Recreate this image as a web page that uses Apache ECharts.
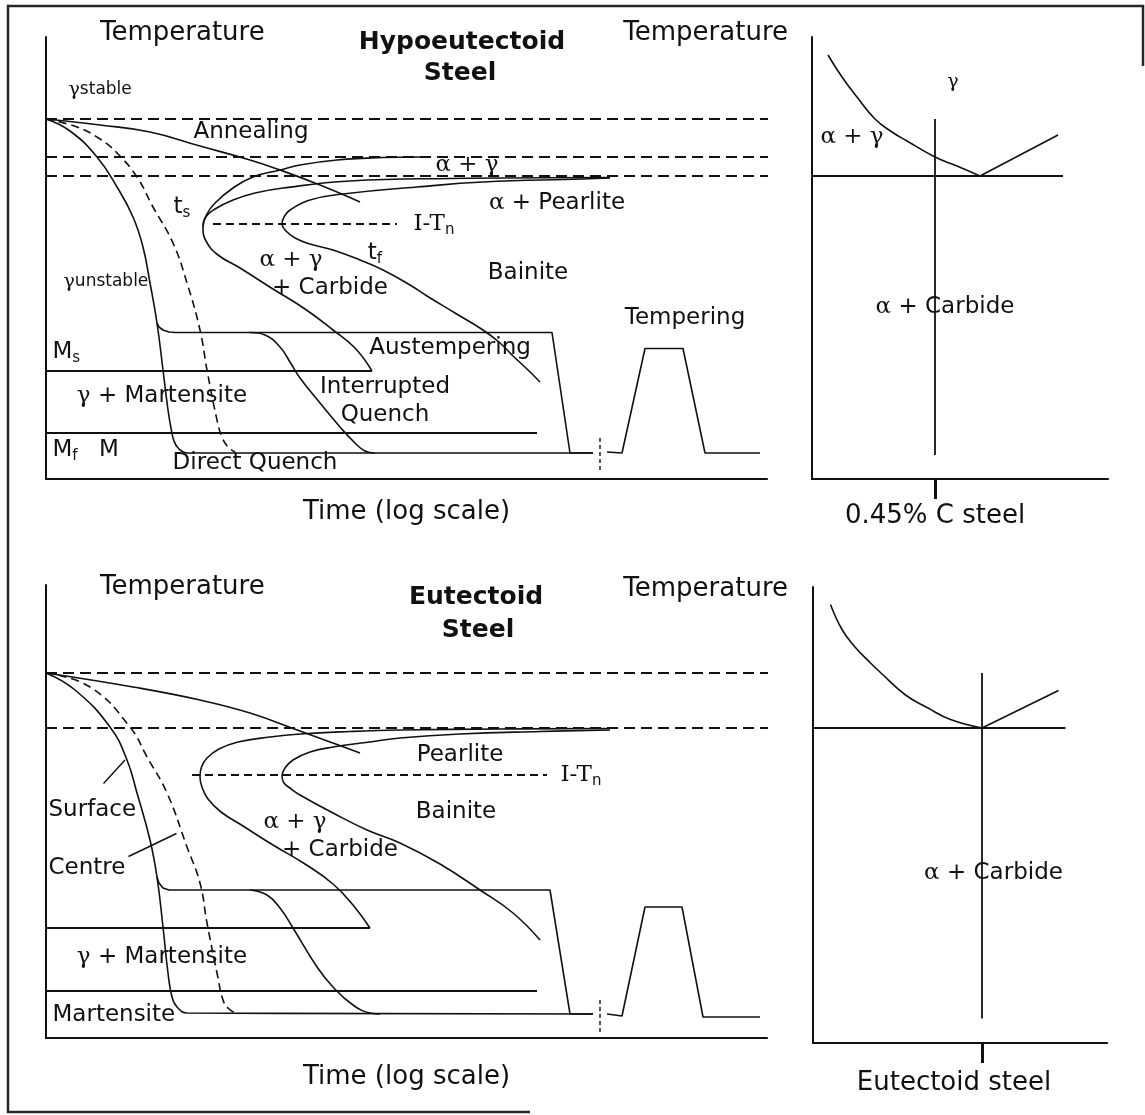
<!DOCTYPE html>
<html>
<head>
<meta charset="utf-8">
<script src="https://cdn.jsdelivr.net/npm/echarts@6/dist/echarts.min.js"></script>
<style>
  html, body { margin: 0; padding: 0; background: #fff; }
  #chart { width: 1145px; height: 1115px; }
</style>
</head>
<body>
<div id="chart"></div>
<script>
// Heat-treatment paths over isothermal transformation (I-T) curves,
// with the matching corner of the Fe-C phase diagram beside each panel.
// Time runs in arbitrary log-time units, temperature in arbitrary units.

// ---------- Hypoeutectoid steel (0.45% C) ----------
const hypoAustenitizeLine = [[0, 72.0], [177.8, 72.0]];
const hypoA3Line = [[0, 64.4], [175.4, 64.4]];
const hypoA1Line = [[0, 60.6], [153.2, 60.6]];
const hypoITnLine = [[33.4, 51.0], [70.2, 51.0]];
const hypoMsLine = [[0, 21.6], [65.2, 21.6]];
const hypoMfLine = [[0, 9.2], [98.2, 9.2]];

const hypoAnnealing = [[0, 72.0], [10.8, 70.8], [20.8, 69.4], [30.8, 66.6], [40.8, 63.8], [46.8, 61.8], [54.8, 58.8], [62.8, 55.4]];
// transformation start: ferrite branch (to A3) and lower bainite side
const hypoStartFerrite = [[74.8, 64.4], [67.4, 64.3], [58.2, 63.8], [50.8, 62.8], [46.8, 61.8], [41.4, 60.4], [37.4, 58.2], [33.8, 55.2], [32.2, 53.0], [31.4, 50.4], [32.0, 47.6], [34.4, 44.8], [38.8, 42.2], [45.4, 38.0], [51.8, 34.0], [57.4, 29.8], [61.8, 26.2], [65.2, 21.6]];
const hypoStartPearlite = [[31.4, 50.4], [31.8, 52.2], [33.8, 54.0], [37.4, 55.8], [41.8, 57.2], [47.4, 58.2], [60.8, 59.6], [80.8, 60.1], [112.8, 60.3]];
const hypoFinish = [[112.8, 60.2], [107.4, 60.0], [87.4, 59.4], [74.2, 58.4], [59.4, 57.0], [52.8, 55.8], [48.8, 53.8], [47.6, 52.4], [47.2, 51.0], [48.0, 49.6], [49.8, 48.2], [52.8, 47.0], [57.4, 45.8], [62.8, 43.8], [67.4, 41.8], [72.8, 38.8], [76.2, 36.6], [81.8, 33.2], [87.4, 29.8], [90.8, 27.2], [93.4, 24.6], [96.2, 22.0], [98.8, 19.4]];

const hypoDirectQuench = [[0, 72.0], [4.8, 69.6], [10.2, 64.4], [14.2, 58.4], [17.4, 52.4], [19.4, 46.4], [20.8, 39.2], [22.2, 31.2], [23.4, 21.8], [24.4, 13.8], [25.0, 10.2], [25.6, 7.6], [26.6, 6.0], [28.4, 5.2], [109.4, 5.2]];
const hypoSlowQuench = [[0, 72.0], [6.2, 70.4], [10.8, 68.0], [14.2, 65.2], [18.2, 60.4], [21.4, 54.4], [25.4, 47.2], [28.2, 39.2], [30.8, 29.8], [32.2, 21.8], [34.2, 11.8], [35.2, 8.4], [36.4, 6.4], [37.8, 5.4]];
const hypoAustemper = [[22.2, 31.2], [22.6, 30.4], [23.4, 29.8], [24.6, 29.4], [25.8, 29.3], [101.2, 29.3], [104.8, 5.2], [109.4, 5.2]];
const hypoInterrupted = [[40.8, 29.3], [43.8, 28.8], [46.8, 26.4], [48.8, 23.4], [50.8, 20.2], [54.8, 15.2], [58.8, 10.4], [61.8, 7.2], [63.8, 5.6], [65.8, 5.2]];
const hypoTempering = [[112.2, 5.4], [115.2, 5.2], [119.8, 26.1], [127.4, 26.1], [131.8, 5.2], [142.8, 5.2]];
const hypoTimeBreak = [[110.8, 8.2], [110.8, 1.8]];

// phase diagram corner (carbon content vs temperature)
const hypoPhaseA3 = [[3.2, 84.8], [6.0, 80.4], [9.0, 76.4], [12.6, 72.0], [16.0, 69.4], [19.0, 67.6], [24.6, 64.4], [29.0, 62.6], [33.6, 60.6]];
const hypoPhaseAcm = [[33.6, 60.6], [49.2, 68.8]];
const hypoPhaseA1 = [[0, 60.6], [50.2, 60.6]];
const hypoComposition = [[24.6, 72.0], [24.6, 4.8]];
const hypoCompositionTicks = [24.6];
const hypoCompositionLabels = ['0.45% C steel'];

const hypoLabels = [
  [4.4, 77.8, '{gs|γ}{st|stable}', 'left'],
  [41.0, 69.4, 'Annealing'],
  [84.2, 62.8, '{g|α + γ}'],
  [27.2, 54.4, 't{sub|s}'],
  [73.4, 51.0, '{g|I-T}{sub|n}', 'left'],
  [102.2, 55.2, '{g|α} + Pearlite'],
  [65.8, 45.2, 't{sub|f}'],
  [49.0, 43.8, '{g|α + γ}'],
  [56.8, 38.2, '+ Carbide'],
  [3.4, 39.4, '{gs|γ}{st|unstable}', 'left'],
  [96.4, 41.2, 'Bainite'],
  [127.8, 32.2, 'Tempering'],
  [1.2, 25.4, 'M{sub|s}', 'left'],
  [80.8, 26.2, 'Austempering'],
  [23.2, 16.6, '{g|γ} + Martensite'],
  [67.8, 18.4, 'Interrupted'],
  [67.8, 12.8, 'Quench'],
  [1.2, 5.8, 'M{sub|f}', 'left'],
  [12.6, 5.8, 'M'],
  [41.8, 3.2, 'Direct Quench']
];
const hypoPhaseLabels = [
  [28.2, 79.4, '{gs|γ}'],
  [8.0, 68.4, '{g|α + γ}'],
  [26.6, 34.4, '{g|α} + Carbide']
];

// ---------- Eutectoid steel ----------
const eutAustenitizeLine = [[0, 73.0], [187.2, 73.0]];
const eutA1Line = [[0, 62.0], [153.4, 62.0]];
const eutITnLine = [[29.2, 52.6], [100.2, 52.6]];
const eutMsLine = [[0, 22.0], [64.8, 22.0]];
const eutMfLine = [[0, 9.4], [98.2, 9.4]];

const eutAnnealing = [[0, 73.0], [17.4, 70.2], [30.8, 67.6], [40.8, 65.0], [50.8, 61.4], [56.8, 59.2], [62.8, 57.0]];
const eutStart = [[112.8, 61.9], [90.8, 61.8], [70.8, 61.6], [60.8, 61.3], [50.8, 60.8], [44.8, 60.2], [38.4, 59.2], [34.6, 57.8], [32.2, 56.0], [31.1, 54.2], [30.8, 52.2], [31.2, 50.2], [32.4, 47.8], [35.0, 45.2], [39.4, 42.4], [45.4, 38.6], [51.8, 34.8], [57.4, 30.8], [61.4, 26.6], [64.8, 22.0]];
const eutFinish = [[112.8, 61.6], [98.8, 61.3], [82.8, 60.8], [70.8, 60.0], [64.8, 59.2], [57.4, 58.2], [52.8, 57.2], [49.4, 55.6], [47.8, 54.0], [47.2, 52.4], [47.6, 51.0], [48.8, 50.0], [50.8, 48.6], [57.4, 45.0], [64.2, 41.6], [70.8, 39.0], [78.8, 34.8], [86.8, 29.6], [93.4, 25.0], [98.8, 19.6]];

const eutSurface = [[0, 73.0], [5.8, 69.6], [12.8, 62.2], [16.2, 55.6], [18.2, 49.0], [20.8, 39.6], [22.2, 32.2], [23.4, 22.2], [24.4, 13.0], [25.2, 8.2], [26.2, 6.2], [28.2, 5.0], [109.4, 4.8]];
const eutCentre = [[0, 73.0], [8.8, 70.2], [16.8, 62.2], [20.2, 56.2], [24.2, 49.0], [28.2, 38.2], [30.8, 31.0], [32.2, 23.0], [34.2, 13.0], [35.4, 7.6], [36.4, 6.0], [37.8, 5.0]];
const eutAustemper = [[22.2, 32.2], [22.6, 31.0], [23.4, 30.0], [24.6, 29.6], [25.8, 29.6], [100.8, 29.6], [104.8, 4.8], [109.4, 4.8]];
const eutInterrupted = [[40.8, 29.6], [44.2, 28.6], [46.8, 26.0], [49.4, 22.0], [54.2, 14.2], [57.4, 10.2], [61.4, 6.6], [64.8, 5.0], [66.8, 4.8]];
const eutTempering = [[112.2, 4.8], [115.2, 4.4], [119.8, 26.2], [127.2, 26.2], [131.4, 4.2], [142.8, 4.2]];
const eutTimeBreak = [[110.8, 7.6], [110.8, 1.2]];
const eutSurfacePointer = [[11.5, 50.9], [15.8, 55.6]];
const eutCentrePointer = [[16.5, 36.3], [26.1, 40.9]];

const eutPhaseA3 = [[3.5, 86.7], [5.8, 81.7], [8.4, 78.2], [11.5, 75.0], [13.6, 73.0], [18.5, 68.6], [23.0, 66.0], [27.5, 63.7], [33.8, 62.0]];
const eutPhaseAcm = [[33.8, 62.0], [49.1, 69.5]];
const eutPhaseA1 = [[0, 62.0], [50.5, 62.0]];
const eutComposition = [[33.8, 73.0], [33.8, 3.9]];
const eutCompositionTicks = [33.8];
const eutCompositionLabels = ['Eutectoid steel'];

const eutLabels = [
  [82.8, 56.6, 'Pearlite'],
  [102.8, 52.6, '{g|I-T}{sub|n}', 'left'],
  [0.4, 45.6, 'Surface', 'left'],
  [49.8, 43.2, '{g|α + γ}'],
  [58.8, 37.6, '+ Carbide'],
  [82.0, 45.2, 'Bainite'],
  [0.4, 34.0, 'Centre', 'left'],
  [23.2, 16.2, '{g|γ} + Martensite'],
  [1.2, 4.6, 'Martensite', 'left']
];
const eutPhaseLabels = [
  [36.1, 32.9, '{g|α} + Carbide']
];

// ---------- styling & assembly ----------
const INK = '#111111';
const SANS = 'DejaVu Sans';
const SERIF = 'DejaVu Serif';
const LABEL_SIZE = 23;
const AXIS_TEXT = 26;

const rich = {
  g:   { fontFamily: SERIF, fontSize: 23, color: INK },
  gs:  { fontFamily: SERIF, fontSize: 19, color: INK },
  st:  { fontFamily: SANS, fontSize: 17, color: INK },
  sub: { fontFamily: SANS, fontSize: 15, lineHeight: 15, verticalAlign: 'bottom', color: INK }
};

function curve(data, g, o = {}) {
  return {
    type: 'line', xAxisIndex: g, yAxisIndex: g, data,
    symbol: 'none', clip: false, silent: true, z: 3,
    smooth: o.smooth || 0,
    lineStyle: { color: INK, width: o.width || 1.6, type: o.dash || 'solid', cap: 'butt', opacity: 1 }
  };
}

function labelSeries(items, g) {
  return {
    type: 'scatter', xAxisIndex: g, yAxisIndex: g, symbolSize: 1,
    silent: true, clip: false, z: 6,
    itemStyle: { color: 'rgba(255,255,255,0)', opacity: 1 },
    data: items.map(([x, y, text, anchor]) => ({
      value: [x, y], text,
      label: { position: anchor === 'left' ? 'right' : 'inside', distance: 0 }
    })),
    label: {
      show: true, formatter: p => p.data.text, opacity: 1,
      fontFamily: SANS, fontSize: LABEL_SIZE, lineHeight: 28, color: INK,
      textBorderWidth: 0, rich
    }
  };
}

function timeAxis(g, max, gap) {
  return {
    type: 'value', gridIndex: g, min: 0, max,
    axisLine: { onZero: false, lineStyle: { color: INK, width: 2.2 } },
    axisTick: { show: false }, axisLabel: { show: false }, splitLine: { show: false },
    name: 'Time (log scale)', nameLocation: 'middle', nameGap: gap, nameMoveOverlap: false,
    nameTextStyle: { fontFamily: SANS, fontSize: AXIS_TEXT, color: INK }
  };
}

function compositionAxis(g, max, ticks, labels, pad, margin) {
  return {
    type: 'value', gridIndex: g, min: 0, max,
    axisLine: { onZero: false, lineStyle: { color: INK, width: 2.2 } },
    axisTick: { show: true, customValues: ticks, length: 20, inside: false, lineStyle: { color: INK, width: 3 } },
    axisLabel: {
      show: true, customValues: ticks, formatter: v => labels[ticks.indexOf(v)] || '',
      margin, fontFamily: SANS, fontSize: AXIS_TEXT, color: INK, padding: pad
    },
    splitLine: { show: false }
  };
}

function tempAxis(g, min, max, side, gap, shift) {
  return {
    type: 'value', gridIndex: g, min, max,
    axisLine: { onZero: false, lineStyle: { color: INK, width: 2 } },
    axisTick: { show: false }, axisLabel: { show: false }, splitLine: { show: false },
    name: 'Temperature', nameLocation: 'end', nameGap: gap, nameMoveOverlap: false,
    nameTextStyle: {
      fontFamily: SANS, fontSize: AXIS_TEXT, color: INK,
      align: side, verticalAlign: 'middle',
      padding: side === 'left' ? [0, 0, 0, shift] : [0, shift, 0, 0]
    }
  };
}

const DASH_LONG = [11, 6];
const DASH_SHORT = [8, 5];
const SMOOTH = 0.45;

const series = [
  // hypoeutectoid I-T panel
  curve(hypoAustenitizeLine, 0, { dash: DASH_LONG, width: 2 }),
  curve(hypoA3Line, 0, { dash: DASH_LONG, width: 2 }),
  curve(hypoA1Line, 0, { dash: DASH_LONG, width: 2 }),
  curve(hypoITnLine, 0, { dash: DASH_SHORT, width: 1.8 }),
  curve(hypoMsLine, 0, { width: 2 }),
  curve(hypoMfLine, 0, { width: 2 }),
  curve(hypoAnnealing, 0, { smooth: SMOOTH }),
  curve(hypoStartFerrite, 0, { smooth: SMOOTH }),
  curve(hypoStartPearlite, 0, { smooth: SMOOTH }),
  curve(hypoFinish, 0, { smooth: SMOOTH }),
  curve(hypoDirectQuench, 0, { smooth: SMOOTH }),
  curve(hypoSlowQuench, 0, { smooth: SMOOTH, dash: DASH_SHORT }),
  curve(hypoAustemper, 0),
  curve(hypoInterrupted, 0, { smooth: SMOOTH }),
  curve(hypoTempering, 0),
  curve(hypoTimeBreak, 0, { dash: [4, 3], width: 1.4 }),
  labelSeries(hypoLabels, 0),
  // hypoeutectoid phase diagram
  curve(hypoPhaseA3, 1, { smooth: SMOOTH }),
  curve(hypoPhaseAcm, 1),
  curve(hypoPhaseA1, 1, { width: 1.8 }),
  curve(hypoComposition, 1, { width: 1.8 }),
  labelSeries(hypoPhaseLabels, 1),
  // eutectoid I-T panel
  curve(eutAustenitizeLine, 2, { dash: DASH_LONG, width: 2 }),
  curve(eutA1Line, 2, { dash: DASH_LONG, width: 2 }),
  curve(eutITnLine, 2, { dash: DASH_SHORT, width: 1.8 }),
  curve(eutMsLine, 2, { width: 2 }),
  curve(eutMfLine, 2, { width: 2 }),
  curve(eutAnnealing, 2, { smooth: SMOOTH }),
  curve(eutStart, 2, { smooth: SMOOTH }),
  curve(eutFinish, 2, { smooth: SMOOTH }),
  curve(eutSurface, 2, { smooth: SMOOTH }),
  curve(eutCentre, 2, { smooth: SMOOTH, dash: DASH_SHORT }),
  curve(eutAustemper, 2),
  curve(eutInterrupted, 2, { smooth: SMOOTH }),
  curve(eutTempering, 2),
  curve(eutTimeBreak, 2, { dash: [4, 3], width: 1.4 }),
  curve(eutSurfacePointer, 2, { width: 1.4 }),
  curve(eutCentrePointer, 2, { width: 1.4 }),
  labelSeries(eutLabels, 2),
  // eutectoid phase diagram
  curve(eutPhaseA3, 3, { smooth: SMOOTH }),
  curve(eutPhaseAcm, 3),
  curve(eutPhaseA1, 3, { width: 1.8 }),
  curve(eutComposition, 3, { width: 1.8 }),
  labelSeries(eutPhaseLabels, 3)
];

const gridBase = { containLabel: false, outerBoundsMode: 'none', show: false };

const option = {
  backgroundColor: '#ffffff',
  animation: false,
  textStyle: { fontFamily: SANS, color: INK },
  grid: [
    Object.assign({ left: 46, top: 37, width: 721, height: 442 }, gridBase),
    Object.assign({ left: 812, top: 37, width: 296, height: 442 }, gridBase),
    Object.assign({ left: 46, top: 585, width: 721, height: 453 }, gridBase),
    Object.assign({ left: 813, top: 587, width: 294, height: 456 }, gridBase)
  ],
  xAxis: [
    timeAxis(0, 144.2, 20),
    compositionAxis(1, 59.2, hypoCompositionTicks, hypoCompositionLabels, [0, 0, 0, 0], 24),
    timeAxis(2, 144.2, 26),
    compositionAxis(3, 58.8, eutCompositionTicks, eutCompositionLabels, [0, 56, 0, 0], 27)
  ],
  yAxis: [
    tempAxis(0, 0, 88.4, 'left', 4, 54),
    tempAxis(1, 0, 88.4, 'right', 4, 24),
    tempAxis(2, 0, 90.6, 'left', -2, 54),
    tempAxis(3, -1, 90.2, 'right', -2, 25)
  ],
  graphic: [
    {
      type: 'polyline', silent: true,
      shape: { points: [[530, 1112], [8, 1112], [8, 6], [1143, 6], [1143, 66]] },
      style: { stroke: '#262626', lineWidth: 2.5, fill: null }
    },
    { type: 'text', x: 462, y: 42, silent: true,
      style: { text: 'Hypoeutectoid', align: 'center', verticalAlign: 'middle', fontFamily: SANS, fontSize: 25, fontWeight: 'bold', fill: INK } },
    { type: 'text', x: 460, y: 73, silent: true,
      style: { text: 'Steel', align: 'center', verticalAlign: 'middle', fontFamily: SANS, fontSize: 25, fontWeight: 'bold', fill: INK } },
    { type: 'text', x: 476, y: 597, silent: true,
      style: { text: 'Eutectoid', align: 'center', verticalAlign: 'middle', fontFamily: SANS, fontSize: 25, fontWeight: 'bold', fill: INK } },
    { type: 'text', x: 478, y: 630, silent: true,
      style: { text: 'Steel', align: 'center', verticalAlign: 'middle', fontFamily: SANS, fontSize: 25, fontWeight: 'bold', fill: INK } }
  ],
  series
};

const chart = echarts.init(document.getElementById('chart'), null, { renderer: 'canvas' });
chart.setOption(option);
</script>
</body>
</html>
